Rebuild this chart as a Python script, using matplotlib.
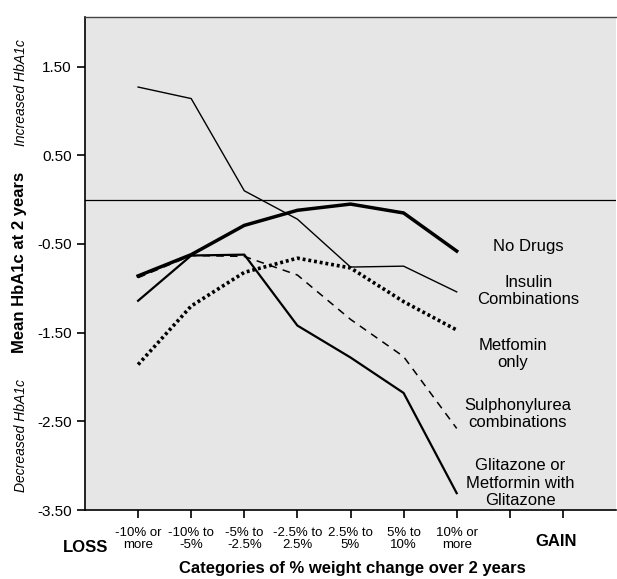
import matplotlib
matplotlib.use('Agg')
import matplotlib.pyplot as plt

plt.rcParams['font.family'] = ['Liberation Sans', 'DejaVu Sans']

# ─── Data ───
categories = ['-10% or\nmore', '-10% to\n-5%', '-5% to\n-2.5%', '-2.5% to\n2.5%',
              '2.5% to\n5%', '5% to\n10%', '10% or\nmore']
x_pos = [1, 2, 3, 4, 5, 6, 7]

no_drugs     = [-0.86, -0.62, -0.29, -0.12, -0.05, -0.15, -0.58]
insulin      = [1.27, 1.14, 0.10, -0.22, -0.76, -0.75, -1.04]
metformin    = [-1.86, -1.20, -0.82, -0.66, -0.77, -1.15, -1.47]
sulphonyl    = [-0.88, -0.63, -0.64, -0.85, -1.35, -1.77, -2.58]
glitazone    = [-1.14, -0.63, -0.62, -1.42, -1.78, -2.18, -3.31]

y_ticks = [1.5, 0.5, -0.5, -1.5, -2.5, -3.5]

fig = plt.figure(figsize=(6.17, 5.79), dpi=100)
ax = fig.add_axes([85 / 617, 1 - 510 / 579, 531 / 617, 493 / 579])
ax.set_facecolor('#e6e6e6')

ax.axhline(0, color='black', linewidth=0.9, zorder=1)

ax.plot(x_pos, insulin, color='black', linewidth=1.0, zorder=3)
ax.plot(x_pos, sulphonyl, color='black', linewidth=1.1, linestyle=(0, (5, 4)), zorder=3)
ax.plot(x_pos, glitazone, color='black', linewidth=1.6, zorder=3)
ax.plot(x_pos, metformin, color='black', linewidth=2.6, linestyle=(0, (0.8, 0.8)), zorder=3)
ax.plot(x_pos, no_drugs, color='black', linewidth=2.5, zorder=4)

# Series labels at the right
lab_kw = dict(fontsize=12, ha='center', va='center', linespacing=1.2)
ax.text(8.35, -0.53, 'No Drugs', **lab_kw)
ax.text(8.35, -1.03, 'Insulin\nCombinations', **lab_kw)
ax.text(8.05, -1.74, 'Metfomin\nonly', **lab_kw)
ax.text(8.15, -2.42, 'Sulphonylurea\ncombinations', **lab_kw)
ax.text(8.2, -3.20, 'Glitazone or\nMetformin with\nGlitazone', **lab_kw)

ax.set_xlim(0, 10)
ax.set_ylim(-3.5, 2.06)
ax.set_yticks(y_ticks)
ax.set_yticklabels([f'{v:.2f}' for v in y_ticks], fontsize=11)
ax.set_xticks(range(1, 10))
ax.set_xticklabels(categories + ['', ''], fontsize=9.5, linespacing=1.0)
ax.tick_params(axis='both', direction='out', length=6, width=1.2, color='black')
ax.tick_params(axis='x', pad=6)

for side in ['left', 'bottom']:
    ax.spines[side].set_linewidth(1.2)
    ax.spines[side].set_color('black')
ax.spines['top'].set_linewidth(1.0)
ax.spines['top'].set_color('#444444')
ax.spines['right'].set_visible(False)

fig.text(352 / 617, 1 - 568 / 579, 'Categories of % weight change over 2 years',
         fontsize=12, fontweight='bold', ha='center', va='center')

fig.text(86 / 617, 1 - 548 / 579, 'LOSS', fontsize=12, fontweight='bold',
         ha='center', va='center')
fig.text(556 / 617, 1 - 542 / 579, 'GAIN', fontsize=12, fontweight='bold',
         ha='center', va='center')

fig.text(20 / 617, 1 - 262 / 579, 'Mean HbA1c at 2 years', fontsize=12,
         fontweight='bold', rotation=90, ha='center', va='center')
fig.text(21 / 617, 1 - 93 / 579, 'Increased HbA1c', fontsize=10,
         fontstyle='italic', rotation=90, ha='center', va='center')
fig.text(21 / 617, 1 - 436 / 579, 'Decreased HbA1c', fontsize=10,
         fontstyle='italic', rotation=90, ha='center', va='center')

fig.savefig('out.png', dpi=100)
